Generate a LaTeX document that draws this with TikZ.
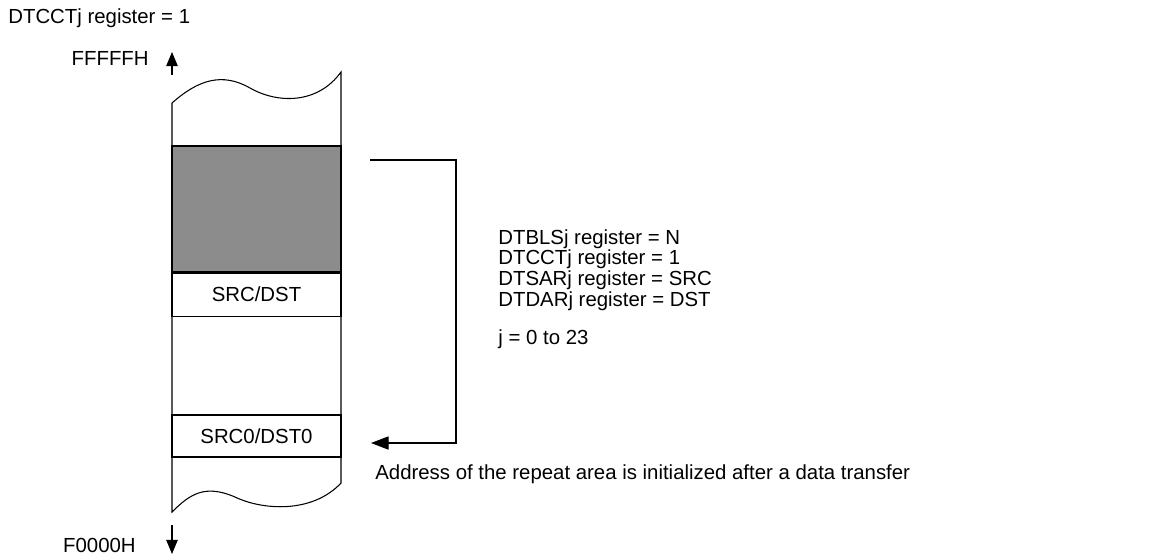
\documentclass[tikz,border=0pt]{standalone}
\usepackage{fontspec}
\setmainfont{Liberation Sans}
\usetikzlibrary{arrows.meta,positioning}
\definecolor{blkgray}{RGB}{140,140,140}
\begin{document}
\begin{tikzpicture}[x=0.02cm,y=-0.02cm,>={Triangle[length=8pt,width=6.5pt]},
    every node/.style={font=\fontsize{11.6}{10.2}\selectfont,inner sep=0pt},
    memrow/.style={draw,minimum width=3.38cm,minimum height=0.86cm,line width=0.6pt},
    lbl/.style={anchor=east}]
  \useasboundingbox (0,0) rectangle (1176,555);
  %% column outline with broken ends
  \draw[line width=0.6pt] (172,103) .. controls (198,80) and (222,72) .. (250,88)
        .. controls (278,104) and (318,104) .. (341,72) -- (341,483)
        .. controls (312,514) and (262,510) .. (235,497)
        .. controls (205,484) and (190,494) .. (172,512) -- cycle;
  %% memory areas
  \node[memrow,fill=blkgray,minimum height=2.52cm] (blk) at (256.5,209) {};
  \node[memrow,below=0pt of blk] (src) {SRC/DST};
  \node[memrow,minimum height=0.84cm] (src0) at (256.5,436) {SRC0/DST0};
  %% address direction
  \node[anchor=west] (cnt) at (8,18) {DTCCTj register = 1};
  \node[lbl] (hi) at (149,58) {FFFFFH};
  \node[lbl] (lo) at (136,545) {F0000H};
  \coordinate (hi0) at (172,75);
  \coordinate (hi1) at (172,52);
  \coordinate (lo0) at (172,525);
  \coordinate (lo1) at (172,554);
  \draw[->,line width=0.6pt] (hi0) -- (hi1);
  \draw[->,line width=0.6pt] (lo0) -- (lo1);
  %% repeat bracket
  \coordinate (rtop) at (370,160);
  \coordinate (rcor) at (456,160);
  \coordinate (rbot) at (371,443);
  \draw[-{Triangle[length=10pt,width=7.5pt]},line width=0.6pt] (rtop) -- (rcor) |- (rbot);
  \node[anchor=north west,align=left] (regs) at (498,229)
    {DTBLSj register = N\\DTCCTj register = 1\\DTSARj register = SRC\\DTDARj register = DST\\[10pt]j = 0 to 23};
  \node[anchor=west] (note) at (375,474) {Address of the repeat area is initialized after a data transfer};
\end{tikzpicture}
\end{document}
